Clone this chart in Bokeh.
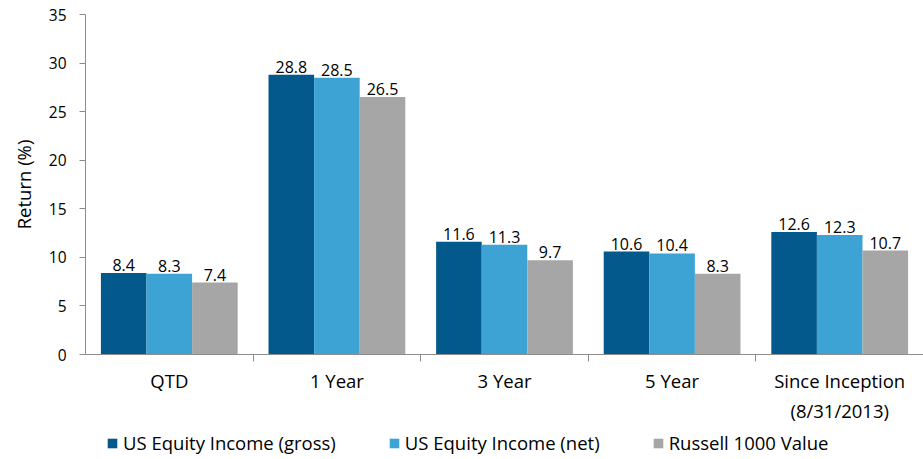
from bokeh.plotting import figure
from bokeh.layouts import column
from bokeh.core.properties import value
from bokeh.models import ColumnDataSource, FixedTicker, Legend, LegendItem, Range1d, LabelSet
from bokeh.embed import file_html
from bokeh.resources import INLINE

categories = ["QTD", "1 Year", "3 Year", "5 Year", "Since Inception\n(8/31/2013)"]
gross = [8.4, 28.8, 11.6, 10.6, 12.6]
net = [8.3, 28.5, 11.3, 10.4, 12.3]
russell = [7.4, 26.5, 9.7, 8.3, 10.7]
series_names = ["US Equity Income (gross)", "US Equity Income (net)", "Russell 1000 Value"]
colors = ["#03598C", "#3DA3D4", "#A6A6A6"]
y_ticks = [0, 5, 10, 15, 20, 25, 30, 35]

FONT = "Open Sans"
p = figure(width=923, height=425, output_backend="svg", toolbar_location=None,
           x_range=Range1d(0, 5.0), y_range=Range1d(0, 35),
           min_border_left=85, min_border_right=0, min_border_top=14, min_border_bottom=70)
p.outline_line_color = None
p.grid.grid_line_color = None

bw = 0.272
offsets = [-bw, 0, bw]
for i, (vals, c) in enumerate(zip([gross, net, russell], colors)):
    xs = [k + 0.5 + offsets[i] for k in range(len(categories))]
    src = ColumnDataSource(dict(x=xs, top=vals, lab=[f"{v:.1f}" for v in vals]))
    p.vbar(x="x", top="top", width=bw, source=src, fill_color=c, line_color=None)
    p.add_layout(LabelSet(x="x", y="top", text="lab", source=src, text_align="center",
                          text_baseline="bottom", y_offset=2, text_font=value(FONT),
                          text_font_size=value("16px"), text_color=value("#000000")))

ax = p.xaxis[0]
ax.ticker = FixedTicker(ticks=[k + 0.5 for k in range(len(categories))], minor_ticks=[1, 2, 3, 4])
ax.major_label_overrides = {k + 0.5: lab for k, lab in enumerate(categories)}
ax.major_tick_out = 0
ax.major_tick_in = 0
ax.minor_tick_out = 7
ax.minor_tick_in = 0
ax.axis_line_color = "#8C8C8C"
ax.minor_tick_line_color = "#8C8C8C"
ax.major_label_text_font = FONT
ax.major_label_text_font_size = "18.5px"
ax.major_label_text_color = "#000000"
ax.major_label_standoff = 6

ay = p.yaxis[0]
ay.ticker = FixedTicker(ticks=y_ticks)
ay.minor_tick_line_color = None
ay.major_tick_out = 6
ay.major_tick_in = 0
ay.axis_line_color = "#8C8C8C"
ay.major_tick_line_color = "#8C8C8C"
ay.major_label_text_font = FONT
ay.major_label_text_font_size = "15.5px"
ay.major_label_text_color = "#000000"
ay.major_label_standoff = 13
ay.axis_label = "Return (%)"
ay.axis_label_text_font = FONT
ay.axis_label_text_font_size = "18.5px"
ay.axis_label_text_font_style = "normal"
ay.axis_label_text_color = "#000000"
ay.axis_label_standoff = 10

# legend strip below the chart
lg = figure(width=923, height=34, output_backend="svg", toolbar_location=None,
            x_axis_type=None, y_axis_type=None, x_range=Range1d(0, 1), y_range=Range1d(0, 1),
            min_border_left=0, min_border_right=0, min_border_top=0, min_border_bottom=0)
lg.outline_line_color = None
lg.grid.grid_line_color = None
dummy = []
for c in colors:
    dummy.append(lg.vbar(x=[5], top=[1], width=0.1, fill_color=c, line_color=None))
legend = Legend(items=[LegendItem(label=n, renderers=[r]) for n, r in zip(series_names, dummy)],
                orientation="horizontal", location=(21, 4), border_line_color=None,
                background_fill_alpha=0,
                label_text_font=FONT, label_text_font_size="18.5px", label_text_color="#000000",
                glyph_width=12, glyph_height=12, label_standoff=5, spacing=52,
                padding=0, margin=0)
lg.add_layout(legend, "center")

open("out.html", "w").write(file_html(column(p, lg, spacing=0), INLINE))
